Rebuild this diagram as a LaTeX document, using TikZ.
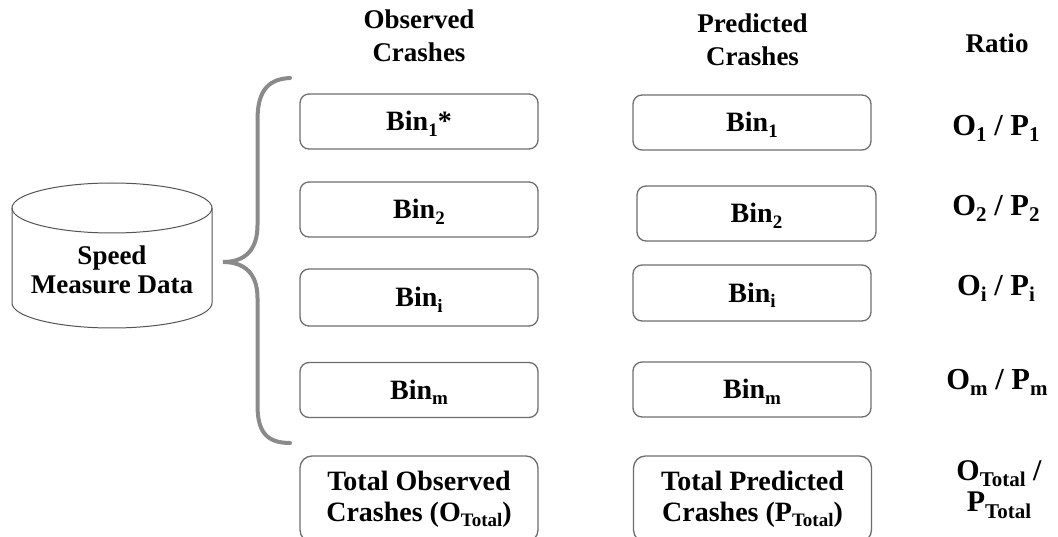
\documentclass[tikz,border=0pt]{standalone}
\usepackage{fontspec}
\setmainfont{Liberation Serif}
\usetikzlibrary{positioning}
\definecolor{boxgray}{HTML}{6E6E6E}
\definecolor{bracegray}{HTML}{8A8A8A}
\definecolor{dbgray}{HTML}{555555}
% lowered subscript in a smaller size
\newcommand\lowsub[1]{\raisebox{-5.5pt}{\fontsize{19}{20}\selectfont #1}}
\newcommand\ratiosub[1]{\raisebox{-6.5pt}{\fontsize{21}{22}\selectfont #1}}
\begin{document}
\begin{tikzpicture}[x=1pt,y=-1pt,
  head/.style={font=\bfseries\fontsize{27}{33}\selectfont, inner sep=0pt, align=center},
  binbox/.style={draw=boxgray, line width=1.3pt, rounded corners=9pt,
    minimum width=238pt, minimum height=55pt, inner sep=0pt,
    text height=18.5pt, text depth=0pt, font=\bfseries\fontsize{28}{31}\selectfont},
  totbox/.style={draw=boxgray, line width=1.3pt, rounded corners=12pt,
    minimum width=238pt, minimum height=86pt, inner sep=0pt, align=center,
    font=\bfseries\fontsize{28}{31}\selectfont},
  ratio/.style={inner sep=0pt, text height=20.3pt, text depth=0pt,
    font=\bfseries\fontsize{30.5}{31}\selectfont},
  brace/.style={draw=bracegray, line width=4pt, line cap=round}]
\clip (0,0) rectangle (1058,537);
\fill[white] (0,0) rectangle (1058,537);

% column headers
\node[head, anchor=north] (hobs) at (419,9.5) {Observed\\Crashes};
\node[head, anchor=north] (hpre) at (752.5,14) {Predicted\\Crashes};
\node[head, text height=17.9pt, text depth=0pt] (hrat) at (997,44) {Ratio};

% data source cylinder
\draw[dbgray, line width=1pt, fill=white]
  (12,208) -- (12,303) arc[start angle=180, end angle=0, x radius=100, y radius=25]
  -- (212,208);
\draw[dbgray, line width=1pt] (112,208) ellipse[x radius=100, y radius=25];
\node[head, anchor=north, font=\bfseries\fontsize{27}{29}\selectfont] (db) at (112,246)
  {Speed\\Measure Data};

% brace grouping the bins
\draw[brace] (290,78) .. controls (265,79) and (257.5,95) .. (257.5,120)
  -- (257.5,225) .. controls (257.5,250) and (245,262) .. (223,262)
  .. controls (245,262) and (257.5,274) .. (257.5,298)
  -- (257.5,405) .. controls (257.5,430) and (265,443) .. (290,443);

% observed crash bins
\node[binbox] (o1) at (419,121.5) {Bin\lowsub{1}*};
\node[binbox] (o2) at (419,209.5) {Bin\lowsub{2}};
\node[binbox, minimum height=57pt] (oi) at (419,297.5) {Bin\lowsub{i}};
\node[binbox] (om) at (419,390) {Bin\lowsub{m}};
\node[totbox] (ot) at (419,499) {Total Observed\\Crashes (O\lowsub{Total})};

% predicted crash bins
\node[binbox] (p1) at (752,122.5) {Bin\lowsub{1}};
\node[binbox, minimum width=239pt] (p2) at (756.5,213.5) {Bin\lowsub{2}};
\node[binbox, minimum height=56pt] (pi) at (752,293) {Bin\lowsub{i}};
\node[binbox] (pm) at (752,389.5) {Bin\lowsub{m}};
\node[totbox] (pt) at (752.5,499) {Total Predicted\\Crashes (P\lowsub{Total})};

% ratios
\node[ratio] (r1) at (996,125) {O\ratiosub{1} / P\ratiosub{1}};
\node[ratio] (r2) at (996,205) {O\ratiosub{2} / P\ratiosub{2}};
\node[ratio] (ri) at (996,285) {O\ratiosub{i} / P\ratiosub{i}};
\node[ratio] (rm) at (997,379) {O\ratiosub{m} / P\ratiosub{m}};
\node[ratio, anchor=north, align=center, text height=, text depth=,
  font=\bfseries\fontsize{30}{31.5}\selectfont] (rt) at (999,460)
  {O\ratiosub{Total} /\\P\ratiosub{Total}};
\end{tikzpicture}
\end{document}
